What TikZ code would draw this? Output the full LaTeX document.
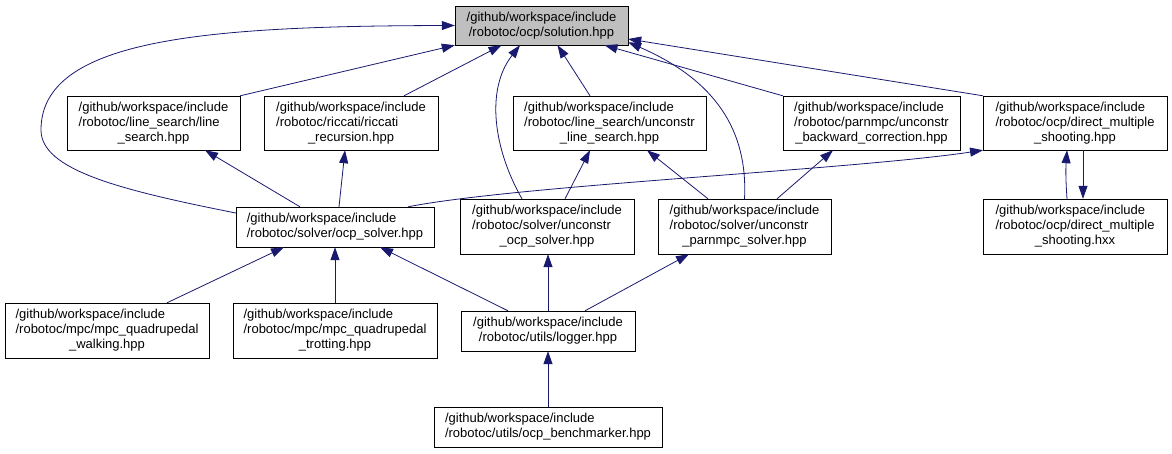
\documentclass[tikz,border=0pt]{standalone}
\usepackage{fontspec}
\setmainfont{Liberation Sans}
\usetikzlibrary{arrows.meta}
\definecolor{edgeblue}{HTML}{191970}
\definecolor{solgray}{HTML}{BFBFBF}
\newcommand{\twoline}[2]{\begin{tabular}{@{}l@{}}#1\\\multicolumn{1}{@{}c@{}}{#2}\end{tabular}}
\newcommand{\threeline}[3]{\begin{tabular}{@{}l@{}}#1\\#2\\\multicolumn{1}{@{}c@{}}{#3}\end{tabular}}

\begin{document}
\begin{tikzpicture}[x=1pt, y=-1pt,
    hdrbox/.style={draw=black, fill=white, inner sep=0pt, font=\fontsize{13}{15}\selectfont},
    incl/.style={draw=edgeblue, line width=0.8pt, -{Triangle[length=13pt,width=9pt]}}]
    \useasboundingbox (0,0) rectangle (1172,453);

    \node[hdrbox, fill=solgray, minimum width=173pt, minimum height=39pt] (sol) at (541.5,25.5) {\twoline{/github/workspace/include}{/robotoc/ocp/solution.hpp}};

    \node[hdrbox, minimum width=173pt, minimum height=54pt] (ls) at (153.5,123) {\threeline{/github/workspace/include}{/robotoc/line\_search/line}{\_search.hpp}};
    \node[hdrbox, minimum width=174pt, minimum height=54pt] (ric) at (351,123) {\threeline{/github/workspace/include}{/robotoc/riccati/riccati}{\_recursion.hpp}};
    \node[hdrbox, minimum width=193pt, minimum height=54pt] (uls) at (609.5,123) {\threeline{/github/workspace/include}{/robotoc/line\_search/unconstr}{\_line\_search.hpp}};
    \node[hdrbox, minimum width=177pt, minimum height=54pt] (pbc) at (871.5,123) {\threeline{/github/workspace/include}{/robotoc/parnmpc/unconstr}{\_backward\_correction.hpp}};
    \node[hdrbox, minimum width=183.5pt, minimum height=54pt] (dms) at (1075,123) {\threeline{/github/workspace/include}{/robotoc/ocp/direct\_multiple}{\_shooting.hpp}};

    \node[hdrbox, minimum width=198pt, minimum height=40pt] (ocps) at (335,227) {\twoline{/github/workspace/include}{/robotoc/solver/ocp\_solver.hpp}};
    \node[hdrbox, minimum width=174pt, minimum height=55pt] (uocp) at (547,226.5) {\threeline{/github/workspace/include}{/robotoc/solver/unconstr}{\_ocp\_solver.hpp}};
    \node[hdrbox, minimum width=173pt, minimum height=55pt] (upar) at (744.5,226.5) {\threeline{/github/workspace/include}{/robotoc/solver/unconstr}{\_parnmpc\_solver.hpp}};
    \node[hdrbox, minimum width=183.5pt, minimum height=55pt] (hxx) at (1075,226.5) {\threeline{/github/workspace/include}{/robotoc/ocp/direct\_multiple}{\_shooting.hxx}};

    \node[hdrbox, minimum width=204pt, minimum height=55pt] (walk) at (107,330.5) {\threeline{/github/workspace/include}{/robotoc/mpc/mpc\_quadrupedal}{\_walking.hpp}};
    \node[hdrbox, minimum width=204pt, minimum height=55pt] (trot) at (335,330.5) {\threeline{/github/workspace/include}{/robotoc/mpc/mpc\_quadrupedal}{\_trotting.hpp}};
    \node[hdrbox, minimum width=174pt, minimum height=40pt] (log) at (548,331) {\twoline{/github/workspace/include}{/robotoc/utils/logger.hpp}};

    \node[hdrbox, minimum width=228pt, minimum height=40pt] (bench) at (548,427) {\twoline{/github/workspace/include}{/robotoc/utils/ocp\_benchmarker.hpp}};

    \draw[incl] (ls.north east) -- (sol.south west);
    \draw[incl] ([xshift=53]ric.north) -- ([xshift=-40]sol.south);
    \draw[incl] ([yshift=14]ocps.west) .. controls (120,190) and (41,170) .. (41,130) .. controls (41,40) and (200,26) .. (sol.west);
    \draw[incl] ([xshift=-25]uocp.north) .. controls (494,150) and (485,90) .. ([xshift=-21.5]sol.south);
    \draw[incl] ([xshift=-19.5]uls.north) -- ([xshift=16]sol.south);
    \draw[incl] (upar.north) .. controls (748,130) and (715,80) .. ([yshift=3]sol.south east);
    \draw[incl] (pbc.north west) -- ([xshift=63]sol.south);
    \draw[incl] (dms.north west) -- ([yshift=-13.5]sol.east);

    \draw[incl] ([xshift=-35]ocps.north) -- ([xshift=51.5]ls.south);
    \draw[incl] ([xshift=4]ocps.north) -- ([xshift=-6]ric.south);
    \draw[incl] ([xshift=73]ocps.north) .. controls (520,185) and (850,170) .. (dms.south west);
    \draw[incl] ([xshift=18]uocp.north) -- ([xshift=-19.5]uls.south);
    \draw[incl] ([xshift=-36.5]upar.north) -- ([xshift=37.5]uls.south);
    \draw[incl] ([xshift=32.5]upar.north) -- ([xshift=-38.5]pbc.south);
    \draw[incl] ([xshift=-8]hxx.north) to[bend left=4] ([xshift=-8]dms.south);
    \draw[incl] ([xshift=8]dms.south) -- ([xshift=8]hxx.north);

    \draw[incl] ([xshift=60]walk.north) -- ([xshift=-51]ocps.south);
    \draw[incl] (trot.north) -- (ocps.south);
    \draw[incl] ([xshift=-40]log.north) -- ([xshift=45]ocps.south);
    \draw[incl] (log.north) -- (log.north |- uocp.south);
    \draw[incl] ([xshift=37]log.north) -- ([xshift=-55.5]upar.south);
    \draw[incl] (bench.north) -- (log.south);
\end{tikzpicture}
\end{document}
